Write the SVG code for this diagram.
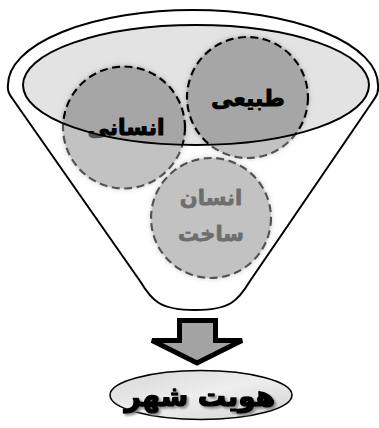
<svg xmlns="http://www.w3.org/2000/svg" width="379" height="428" viewBox="0 0 379 428">
<style>
.circ{fill:#a6a6a6;stroke:#000;stroke-width:2.2;stroke-dasharray:8 4.5;filter:url(#glow)}
.lbl{font-family:"DejaVu Sans",sans-serif;font-weight:bold;text-anchor:middle;direction:rtl;stroke-linejoin:round}
.line{fill:none;stroke:#000;stroke-width:2}
</style>
<defs>
<filter id="glow" x="-20%" y="-20%" width="140%" height="140%">
<feGaussianBlur in="SourceAlpha" stdDeviation="2.5" result="b"/>
<feFlood flood-color="#888" flood-opacity="0.6"/>
<feComposite in2="b" operator="in" result="s"/>
<feMerge><feMergeNode in="s"/><feMergeNode in="SourceGraphic"/></feMerge>
</filter>
<filter id="tshadow" x="-10%" y="-20%" width="120%" height="140%">
<feGaussianBlur in="SourceAlpha" stdDeviation="1.2" result="b"/>
<feOffset dx="2" dy="2" result="o"/>
<feFlood flood-color="#777" flood-opacity="0.8"/>
<feComposite in2="o" operator="in" result="s"/>
<feMerge><feMergeNode in="s"/><feMergeNode in="SourceGraphic"/></feMerge>
</filter>
<linearGradient id="og" x1="0" y1="0" x2="1" y2="1">
<stop offset="0" stop-color="#d6d6d6"/>
<stop offset="0.5" stop-color="#eeeeee"/>
<stop offset="1" stop-color="#d0d0d0"/>
</linearGradient>
</defs>
<g id="funnel">
<path id="funnel-body" d="M8,85 A185,75 0 0 1 378,85 Q379,92 375,98 L250,281 C238,301 230,310 195,310 C160,310 152,301 140,281 L12,98 Q7,92 8,85 Z" fill="#fff"/>
<ellipse id="funnel-mouth" cx="196" cy="85" rx="173" ry="60" fill="#e3e3e3"/>
</g>
<g id="node-tabiei">
<circle class="circ" cx="247.5" cy="97.5" r="60.5"/>
<text class="lbl" x="248" y="106" font-size="22" fill="#000" stroke="#000" stroke-width="1">طبیعی</text>
</g>
<g id="node-ensani">
<circle class="circ" cx="124" cy="127.5" r="61"/>
<text class="lbl" x="126" y="135" font-size="22" fill="#000" stroke="#000" stroke-width="1">انسانی</text>
</g>
<g id="node-ensansakht">
<circle class="circ" cx="211" cy="218" r="60"/>
<text class="lbl" x="211" y="205" font-size="21" fill="#2a2a2a" stroke="#2a2a2a" stroke-width="0.8">انسان</text>
<text class="lbl" x="211" y="241" font-size="21" fill="#2a2a2a" stroke="#2a2a2a" stroke-width="0.8">ساخت</text>
</g>
<path id="funnel-veil" fill-rule="evenodd" fill="#fff" fill-opacity="0.32" d="M8,85 A185,75 0 0 1 378,85 Q379,92 375,98 L250,281 C238,301 230,310 195,310 C160,310 152,301 140,281 L12,98 Q7,92 8,85 Z M23,85 A173,60 0 0 0 369,85 A173,60 0 0 0 23,85 Z"/>
<g id="funnel-lines">
<ellipse class="line" cx="196" cy="85" rx="173" ry="60"/>
<path class="line" d="M8,85 A185,75 0 0 1 378,85 Q379,92 375,98 L250,281 C238,301 230,310 195,310 C160,310 152,301 140,281 L12,98 Q7,92 8,85 Z"/>
</g>
<g id="connectors">
<path d="M179.5,320.5 H215.5 V340.5 H242 L197,363 L152,340.5 H179.5 Z" fill="#a3a3a3" stroke="#000" stroke-width="5" stroke-linejoin="miter"/>
</g>
<g id="node-hoviat">
<ellipse cx="201" cy="395" rx="91" ry="24.5" fill="url(#og)" stroke="#000" stroke-width="1.5"/>
<text class="lbl" x="200" y="406" font-size="28" fill="#000" stroke="#000" stroke-width="1.6" filter="url(#tshadow)">هویت شهر</text>
</g>
</svg>
